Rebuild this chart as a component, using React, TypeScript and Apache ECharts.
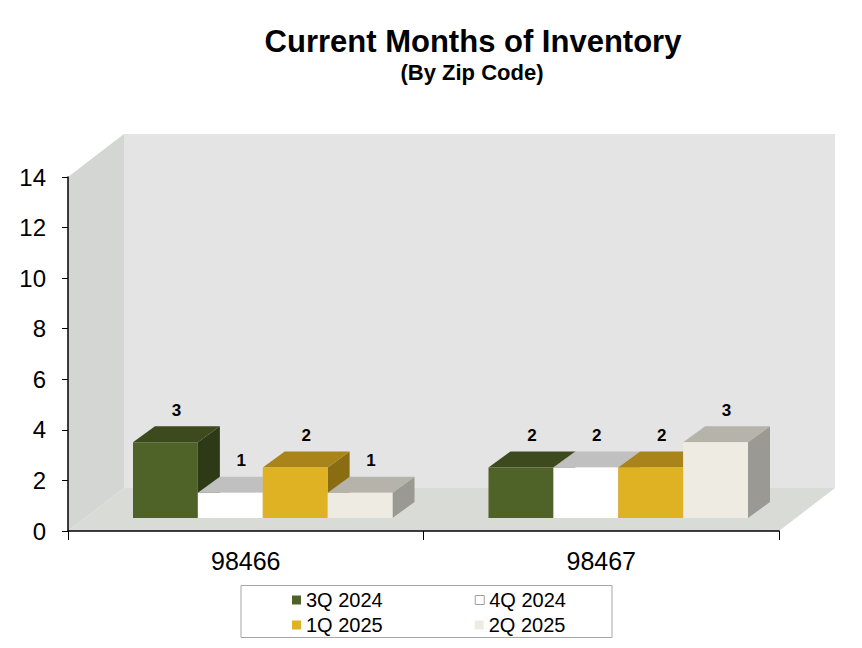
import { useEffect, useRef } from 'react';
import * as echarts from 'echarts';

// chart data
const zipCodes = ['98466', '98467'];
const quarters = ['3Q 2024', '4Q 2024', '1Q 2025', '2Q 2025'];
const q3_2024 = [3, 2];
const q4_2024 = [1, 2];
const q1_2025 = [2, 2];
const q2_2025 = [1, 3];
const seriesValues = [q3_2024, q4_2024, q1_2025, q2_2025];
const yMin = 0;
const yMax = 14;
const yStep = 2;

const FONT = 'Arial, "Liberation Sans", sans-serif';

// face colours: front, top, side
const faces = [
  { front: '#4f6228', top: '#3c4a1e', side: '#2e3a16' },
  { front: '#ffffff', top: '#c0c0c0', side: '#a6a6a6' },
  { front: '#dfb223', top: '#a8841b', side: '#8a6c13' },
  { front: '#eeece2', top: '#b6b3ab', side: '#9b9993' },
];

// 3D depth of the walls and of the bars
const WALL_DX = 56;
const WALL_DY = -43;
const BAR_OFF_DX = 17;
const BAR_OFF_DY = -13;
const BAR_DX = 22;
const BAR_DY = -16;

export default function App() {
  const chartRef = useRef<HTMLDivElement>(null);

  useEffect(() => {
    if (!chartRef.current) return;
    const chart = echarts.init(chartRef.current, undefined, { renderer: 'svg' });

    const wallSeries: any = {
      type: 'custom',
      name: 'walls',
      silent: true,
      z: 1,
      data: [[0, 0]],
      renderItem: (params: any) => {
        const { x, y, width: w, height: h } = params.coordSys;
        return {
          type: 'group',
          children: [
            {
              type: 'rect',
              shape: { x: x + WALL_DX, y: y + WALL_DY, width: w, height: h },
              style: { fill: '#e4e4e4' },
            },
            {
              type: 'polygon',
              shape: {
                points: [
                  [x, y],
                  [x + WALL_DX, y + WALL_DY],
                  [x + WALL_DX, y + h + WALL_DY],
                  [x, y + h],
                ],
              },
              style: { fill: '#d3d6d3' },
            },
            {
              type: 'polygon',
              shape: {
                points: [
                  [x, y + h],
                  [x + WALL_DX, y + h + WALL_DY],
                  [x + w + WALL_DX, y + h + WALL_DY],
                  [x + w, y + h],
                ],
              },
              style: { fill: '#d9dbd6' },
            },
          ],
        };
      },
    };

    const barSeries: any[] = quarters.map((name, idx) => {
      const face = faces[idx];
      return {
        type: 'custom',
        name,
        z: 2,
        itemStyle: { color: face.front },
        encode: { x: 0, y: 1 },
        data: seriesValues[idx].map((v, i) => [i, v]),
        renderItem: (params: any, api: any) => {
          const cat = api.value(0);
          const val = api.value(1);
          const base = api.coord([cat, 0]);
          const top = api.coord([cat, val]);
          const band = api.size([1, 0])[0];
          const groupW = band * 0.73;
          const barW = groupW / quarters.length;
          const x0 = base[0] - groupW / 2 + idx * barW + BAR_OFF_DX;
          const x1 = x0 + barW;
          const yb = base[1] + BAR_OFF_DY;
          const yt = top[1] + BAR_OFF_DY;
          return {
            type: 'group',
            children: [
              {
                type: 'polygon',
                shape: {
                  points: [
                    [x1, yb],
                    [x1 + BAR_DX, yb + BAR_DY],
                    [x1 + BAR_DX, yt + BAR_DY],
                    [x1, yt],
                  ],
                },
                style: { fill: face.side },
              },
              {
                type: 'polygon',
                shape: {
                  points: [
                    [x0, yt],
                    [x0 + BAR_DX, yt + BAR_DY],
                    [x1 + BAR_DX, yt + BAR_DY],
                    [x1, yt],
                  ],
                },
                style: { fill: face.top },
              },
              {
                type: 'rect',
                shape: { x: x0, y: yt, width: barW, height: yb - yt },
                style: { fill: face.front },
              },
              {
                type: 'text',
                x: x0 + barW / 2 + BAR_DX / 2,
                y: yt + BAR_DY - 16,
                style: {
                  text: String(Math.round(val)),
                  font: `bold 17px ${FONT}`,
                  fill: '#000',
                  align: 'center',
                  verticalAlign: 'middle',
                  textAlign: 'center',
                  textVerticalAlign: 'middle',
                },
              },
            ],
          };
        },
      };
    });

    const legendItem = (i: number) => ({
      name: quarters[i],
      itemStyle: {
        color: faces[i].front,
        borderColor: i === 1 ? '#a0a0a0' : faces[i].front,
        borderWidth: i === 1 ? 1 : 0,
      },
    });

    const legendBase = {
      orient: 'horizontal',
      left: 292,
      padding: 0,
      itemWidth: 9,
      itemHeight: 9,
      itemGap: 92,
      icon: 'rect',
      selectedMode: false,
      textStyle: { fontFamily: FONT, fontSize: 20, color: '#000', padding: [0, 0, 0, 0] },
    };

    const option: any = {
      animation: false,
      backgroundColor: '#ffffff',
      textStyle: { fontFamily: FONT },
      graphic: [
        {
          type: 'text',
          x: 473,
          y: 41,
          style: {
            text: 'Current Months of Inventory',
            font: `bold 31px ${FONT}`,
            fill: '#000',
            align: 'center',
            verticalAlign: 'middle',
            textAlign: 'center',
            textVerticalAlign: 'middle',
          },
        },
        {
          type: 'text',
          x: 472,
          y: 72,
          style: {
            text: '(By Zip Code)',
            font: `bold 22px ${FONT}`,
            fill: '#000',
            align: 'center',
            verticalAlign: 'middle',
            textAlign: 'center',
            textVerticalAlign: 'middle',
          },
        },
        {
          type: 'rect',
          z: 0,
          shape: { x: 241, y: 585.5, width: 371, height: 52 },
          style: { fill: '#fff', stroke: '#a6a6a6', lineWidth: 1 },
        },
      ],
      legend: [
        { ...legendBase, top: 590, data: [legendItem(0), legendItem(1)] },
        { ...legendBase, top: 615, data: [legendItem(2), legendItem(3)] },
      ],
      grid: { left: 68, right: 83, top: 177, bottom: 117 },
      xAxis: {
        type: 'category',
        data: zipCodes,
        boundaryGap: true,
        z: 5,
        axisLine: { lineStyle: { color: '#000', width: 1.5 } },
        axisTick: { show: true, length: 9, lineStyle: { color: '#000' } },
        axisLabel: { color: '#000', fontSize: 25, fontFamily: FONT, margin: 17 },
        splitLine: { show: false },
      },
      yAxis: {
        type: 'value',
        min: yMin,
        max: yMax,
        interval: yStep,
        z: 5,
        axisLine: { show: true, lineStyle: { color: '#000', width: 1.5 } },
        axisTick: { show: true, length: 6, lineStyle: { color: '#000' } },
        axisLabel: { color: '#000', fontSize: 24, fontFamily: FONT, margin: 22 },
        splitLine: { show: false },
      },
      series: [wallSeries, ...barSeries],
    };

    chart.setOption(option);

    return () => {
      chart.dispose();
    };
  }, []);

  return (
    <div
      ref={chartRef}
      style={{ position: 'fixed', left: 0, top: 0, width: '862px', height: '648px' }}
    />
  );
}
